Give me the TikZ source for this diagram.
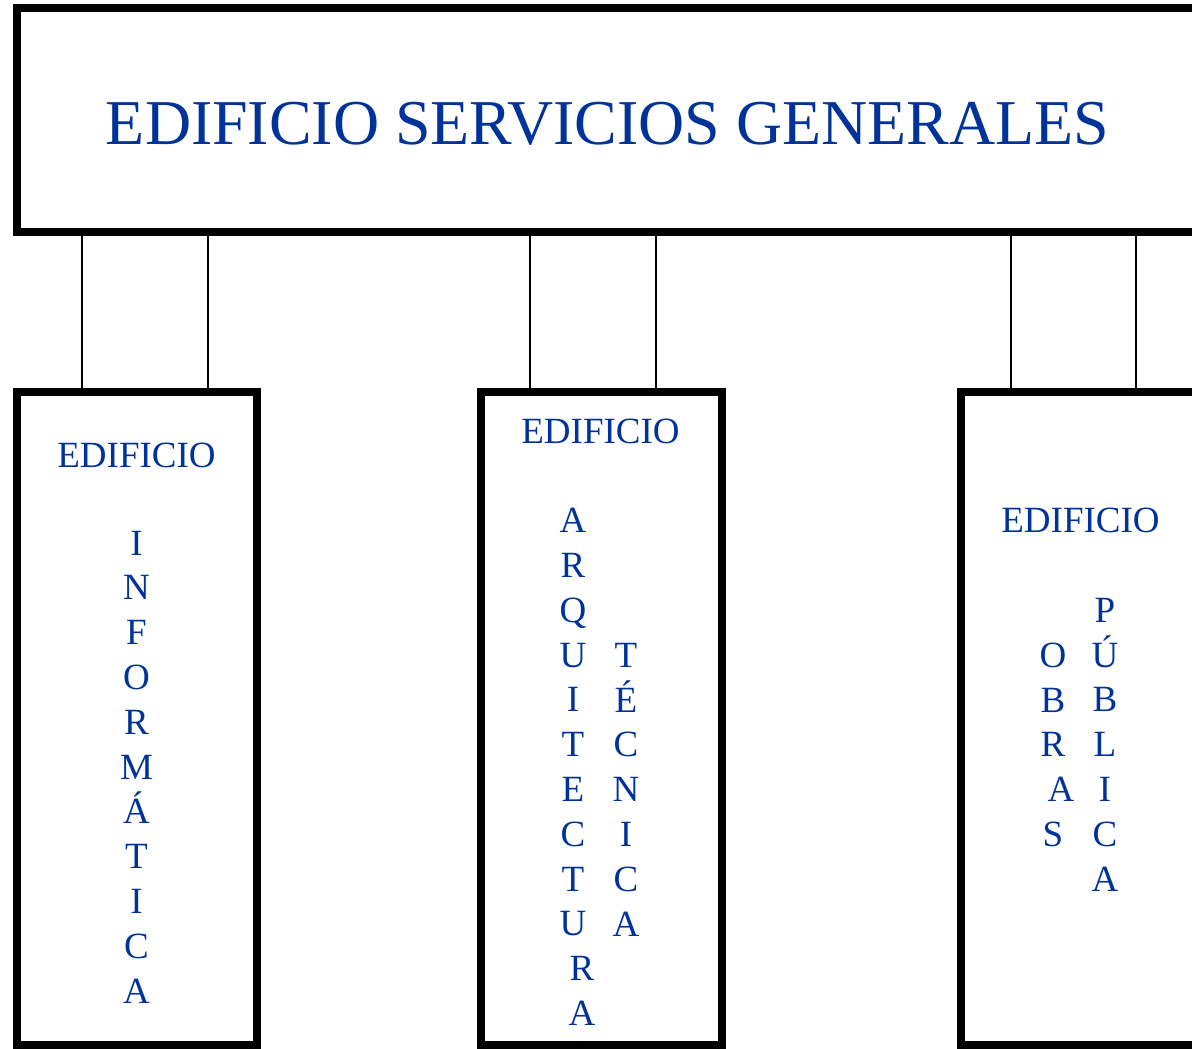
\documentclass[tikz,border=0pt]{standalone}
\usepackage{fontspec}
\setmainfont{Liberation Serif}
\definecolor{txtblue}{HTML}{003399}
\tikzset{
  bigbox/.style={draw=black, line width=8pt, fill=white},
  link/.style={draw=black, line width=1.8pt, fill=white},
  lbl/.style={inner sep=0pt, text=txtblue, font=\fontsize{37}{44.8}\selectfont, align=center, anchor=base},
  ttl/.style={inner sep=0pt, text=txtblue, font=\fontsize{63.9}{70}\selectfont, anchor=base}
}
\begin{document}
\begin{tikzpicture}[x=1pt,y=-1pt]
\useasboundingbox (0,0) rectangle (1192,1049);
% connectors
\draw[link] (82,232) rectangle (208,392);
\draw[link] (530,232) rectangle (656,392);
\draw[link] (1011,232) rectangle (1136,392);
% boxes
\draw[bigbox] (17,8) rectangle (1240,232);
\draw[bigbox] (17,392) rectangle (257,1045);
\draw[bigbox] (481,392) rectangle (722,1045);
\draw[bigbox] (961,392) rectangle (1240,1045);
% title
\node[ttl] (title) at (607.5,144) {EDIFICIO SERVICIOS GENERALES};
% box 1 (multi-line nodes: base = last line)
\node[lbl] (e1) at (136.5,467) {EDIFICIO};
\node[lbl] (inf) at (136.5,1003) {I\\N\\F\\O\\R\\M\\Á\\T\\I\\C\\A};
% box 2
\node[lbl] (e2) at (600.5,443) {EDIFICIO};
\node[lbl] (arq) at (573,1025.5) {A\\R\\Q\\U\\I\\T\\E\\C\\T\\U\\\hspace*{18pt}R\\\hspace*{18pt}A};
\node[lbl] (tec) at (626,936) {T\\É\\C\\N\\I\\C\\A};
% box 3
\node[lbl] (e3) at (1080.5,532) {EDIFICIO};
\node[lbl] (obr) at (1053,846.5) {O\\B\\R\\\hspace*{16pt}A\\S};
\node[lbl] (pub) at (1105,891) {P\\Ú\\B\\L\\I\\C\\A};
\end{tikzpicture}
\end{document}
